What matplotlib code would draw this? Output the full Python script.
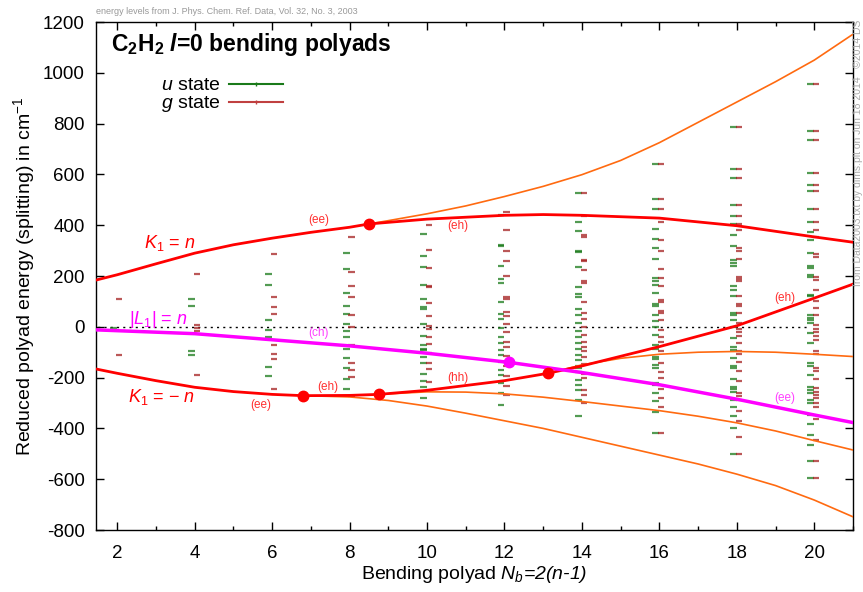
import matplotlib
matplotlib.use("Agg")
import matplotlib.pyplot as plt
from matplotlib.lines import Line2D
from matplotlib.ticker import MultipleLocator

plt.rcParams.update({
    "font.family": ["Liberation Sans", "DejaVu Sans"],
    "mathtext.fontset": "custom",
    "mathtext.rm": "Liberation Sans",
    "mathtext.it": "Liberation Sans:italic",
    "mathtext.bf": "Liberation Sans:bold",
    "mathtext.bfit": "Liberation Sans:italic:bold",
    "axes.unicode_minus": False,
})

# niveaux l=0 par polyade (cm-1)
polyads = [2, 4, 6, 8, 10, 12, 14, 16, 18, 20]
u2 = [-5]
g2 = [109, -110]
u4 = [109, 83, -94, -112]
g4 = [206, 7, -5, -18, -189]
u6 = [206, 163, 25, -12, -42, -160, -192]
g6 = [287, 116, 78, 51, -71, -106, -126, -244]
u8 = [290, 229, 133, 80, 51, 12, -15, -41, -88, -123, -163, -206, -243]
g8 = [352, 215, 160, 116, 47, 0, -71, -143, -169, -198, -272]
u10 = [365, 277, 234, 166, 110, 78, 70, 13, -35, -71, -88, -93, -117, -143,
       -185, -215, -235, -281]
g10 = [402, 303, 231, 162, 155, 93, 42, 4, -8, -42, -67, -104, -143, -167,
       -218, -248]
u12 = [442, 323, 319, 240, 188, 172, 97, 50, 30, -5, -41, -64, -91, -110,
       -137, -169, -189, -222, -259, -307]
g12 = [452, 380, 297, 260, 201, 117, 110, 60, 41, 12, -22, -58, -80, -114,
       -154, -193, -232, -268]
u14 = [526, 411, 376, 297, 293, 234, 155, 130, 119, 70, 45, 14, -18, -42,
       -64, -88, -110, -130, -156, -163, -176, -209, -228, -248, -288, -351]
g14 = [526, 435, 363, 352, 264, 258, 225, 181, 172, 96, 54, 30, 1, -32, -58,
       -78, -97, -120, -145, -185, -200, -248, -270, -300]
u16 = [640, 503, 463, 385, 345, 310, 266, 192, 179, 166, 133, 91, 80, 45, 21,
       1, -32, -71, -88, -117, -127, -150, -163, -222, -228, -262, -294, -334,
       -417]
g16 = [640, 503, 463, 411, 340, 300, 227, 192, 159, 106, 96, 63, 56, 28, -12,
       -41, -58, -97, -143, -176, -202, -245, -281, -314, -417]
u18 = [785, 621, 585, 480, 435, 406, 360, 317, 264, 251, 238, 159, 143, 120,
       56, 47, 25, 1, -45, -80, -91, -123, -154, -163, -206, -238, -246, -255,
       -288, -314, -351, -400, -501]
g18 = [785, 621, 585, 480, 435, 406, 382, 310, 299, 268, 198, 188, 179, 120,
       90, 80, 54, 14, -9, -22, -38, -62, -97, -106, -137, -172, -215, -259,
       -274, -288, -330, -369, -435, -501]
u20 = [957, 770, 735, 604, 557, 534, 462, 411, 372, 343, 290, 240, 231, 205,
       196, 126, 120, 47, 34, 25, 14, -25, -64, -143, -154, -189, -238, -248,
       -259, -288, -298, -347, -383, -426, -465, -528, -597]
g20 = [957, 770, 735, 604, 557, 534, 462, 411, 380, 352, 288, 275, 198, 185,
       146, 102, 74, 47, 8, -9, -22, -35, -51, -97, -106, -163, -172, -206,
       -242, -255, -268, -281, -301, -317, -364, -446, -528, -597]
u_levels = [u2, u4, u6, u8, u10, u12, u14, u16, u18, u20]
g_levels = [g2, g4, g6, g8, g10, g12, g14, g16, g18, g20]

# courbes du modele
k1p_n = [1.45, 2, 3, 4, 5, 6, 7, 8, 8.5, 10, 12, 13, 14, 16, 18, 20, 21]
k1p_e = [184, 205, 248, 290, 323, 349, 372, 392, 405, 424, 439, 442, 439,
         428, 398, 354, 333]
k1m_n = [1.45, 2, 3, 4, 5, 6, 6.8, 8, 8.75, 10, 12, 13.12, 14, 16, 18, 20, 21]
k1m_e = [-166, -183, -212, -238, -255, -266, -271, -270, -266, -250, -212,
         -183, -154, -78, 4, 113, 168]
l1_n = [1.45, 4, 6, 8, 10, 12, 12.12, 14, 16, 18, 20, 21]
l1_e = [-12, -27, -51, -75, -104, -138, -140, -180, -228, -285, -347, -377]

orange_top_n = [8.5, 9, 10, 11, 12, 13, 14, 15, 16, 17, 18, 19, 20, 21]
orange_top_e = [405, 418, 445, 476, 513, 553, 599, 655, 725, 805, 885, 965,
                1050, 1152]
orange_hh_n = [13.12, 14, 15, 16, 17, 18, 19, 20, 21]
orange_hh_e = [-183, -150, -124, -108, -100, -97, -100, -108, -117]
orange_mid_n = [8.75, 10, 11, 12, 13, 14, 15, 16, 17, 18, 19, 20, 21]
orange_mid_e = [-266, -256, -257, -264, -277, -294, -312, -330, -352, -378,
                -410, -448, -485]
orange_low_n = [6.8, 8, 9, 10, 11, 12, 13, 14, 15, 16, 17, 18, 19, 20, 21]
orange_low_e = [-271, -276, -290, -312, -340, -370, -400, -435, -470, -505,
                -540, -580, -625, -682, -748]

red_dot_n = [8.5, 6.8, 8.75, 13.12]
red_dot_e = [405, -271, -266, -183]
mag_dot_n = [12.12]
mag_dot_e = [-140]

fig = plt.figure(figsize=(8.63, 5.92), dpi=100)
ax = fig.add_axes([0.1112, 0.1047, 0.8772, 0.8581])

GREEN = "#1a7a1a"
RED = "#a52020"

for n, ul, gl in zip(polyads, u_levels, g_levels):
    ax.hlines(ul, n - 0.18, n, color=GREEN, alpha=0.75, lw=1.6, zorder=2)
    ax.hlines(gl, n - 0.03, n + 0.13, color=RED, alpha=0.75, lw=1.6, zorder=2)

ax.plot([1, 19.85], [0, 0], color="black", ls=(0, (1.5, 3)), lw=1, zorder=1)

for xn, ye in [(orange_top_n, orange_top_e), (orange_hh_n, orange_hh_e),
               (orange_mid_n, orange_mid_e), (orange_low_n, orange_low_e)]:
    ax.plot(xn, ye, color="#ff6a10", lw=1.2, zorder=3)

ax.plot(k1p_n, k1p_e, color="#ff0000", lw=2, zorder=4)
ax.plot(k1m_n, k1m_e, color="#ff0000", lw=2, zorder=4)
ax.plot(l1_n, l1_e, color="#ff00ff", lw=2.5, zorder=4)
ax.plot(red_dot_n, red_dot_e, "o", color="#ff0000", ms=7.5, zorder=5)
ax.plot(mag_dot_n, mag_dot_e, "o", color="#ff00ff", ms=7.5, zorder=5)

ax.set_xlim(1.45, 21)
ax.set_ylim(-800, 1200)
ax.xaxis.set_major_locator(MultipleLocator(2))
ax.xaxis.set_minor_locator(MultipleLocator(1))
ax.yaxis.set_major_locator(MultipleLocator(200))
ax.tick_params(which="both", direction="in", top=True, right=True,
               labelsize=13.5, width=1)
ax.tick_params(which="major", length=6, pad=8)
ax.tick_params(axis="x", which="major", pad=11)
ax.tick_params(which="minor", length=3)
for s in ax.spines.values():
    s.set_linewidth(1)

# le texte hors-math est en italique, le debut en \mathrm reste droit
ax.set_xlabel(r"$\mathrm{Bending\ polyad\ }N_b$=2(n-1)", fontsize=14,
              fontstyle="italic", labelpad=1)
ax.set_ylabel(r"Reduced polyad energy (splitting) in cm$^{-1}$", fontsize=14,
              labelpad=4)

ax.text(0.02, 0.955, r"C$_\mathbf{2}$H$_\mathbf{2}$ $\mathbfit{l}$=0 bending polyads",
        transform=ax.transAxes, fontsize=16.5, fontweight="bold",
        va="center", ha="left")

handles = [Line2D([], [], color=GREEN, lw=1.5, marker="|", ms=3),
           Line2D([], [], color="#c04040", lw=1.5, marker="|", ms=3)]
ax.legend(handles, [r"$u$ state", r"$g$ state"], loc="upper right",
          bbox_to_anchor=(0.247, 0.892), frameon=False, markerfirst=False,
          fontsize=14, handlelength=2.8, handletextpad=0.4,
          labelspacing=0.0, borderpad=0, borderaxespad=0)

lab = dict(fontsize=8.5, ha="center", va="center")
ax.text(7.2, 421, "(ee)", color="#ff3030", **lab)
ax.text(10.8, 398, "(eh)", color="#ff3030", **lab)
ax.text(5.71, -307, "(ee)", color="#ff3030", **lab)
ax.text(7.44, -236, "(eh)", color="#ff3030", **lab)
ax.text(10.8, -201, "(hh)", color="#ff3030", **lab)
ax.text(19.24, 114, "(eh)", color="#ff3030", **lab)
ax.text(7.2, -24, "(ch)", color="#ff40ff", **lab)
ax.text(19.24, -280, "(ee)", color="#ff40ff", **lab)

big = dict(fontsize=13, ha="center", va="center")
ax.text(3.34, 331, r"$K_1$ = $n$", color="#ff0000", **big)
ax.text(3.13, -275, r"$K_1$ = $-$ $n$", color="#ff0000", **big)
ax.text(3.06, 28, r"$|L_1|$ = $n$", color="#ff00ff", **big)

fig.text(96 / 863, 1 - 12 / 592,
         "energy levels from J. Phys. Chem. Ref. Data, Vol. 32, No. 3, 2003",
         fontsize=6.5, color="#999999", ha="left", va="center")
fig.text(858 / 863, 1 - 20 / 592,
         "from Data2003.txt by dims.plt on Jun 18 2014   \u00a92014 DS",
         fontsize=7.5, color="#aaaaaa", rotation=90, ha="center", va="top")

fig.savefig("out.png", dpi=100)
